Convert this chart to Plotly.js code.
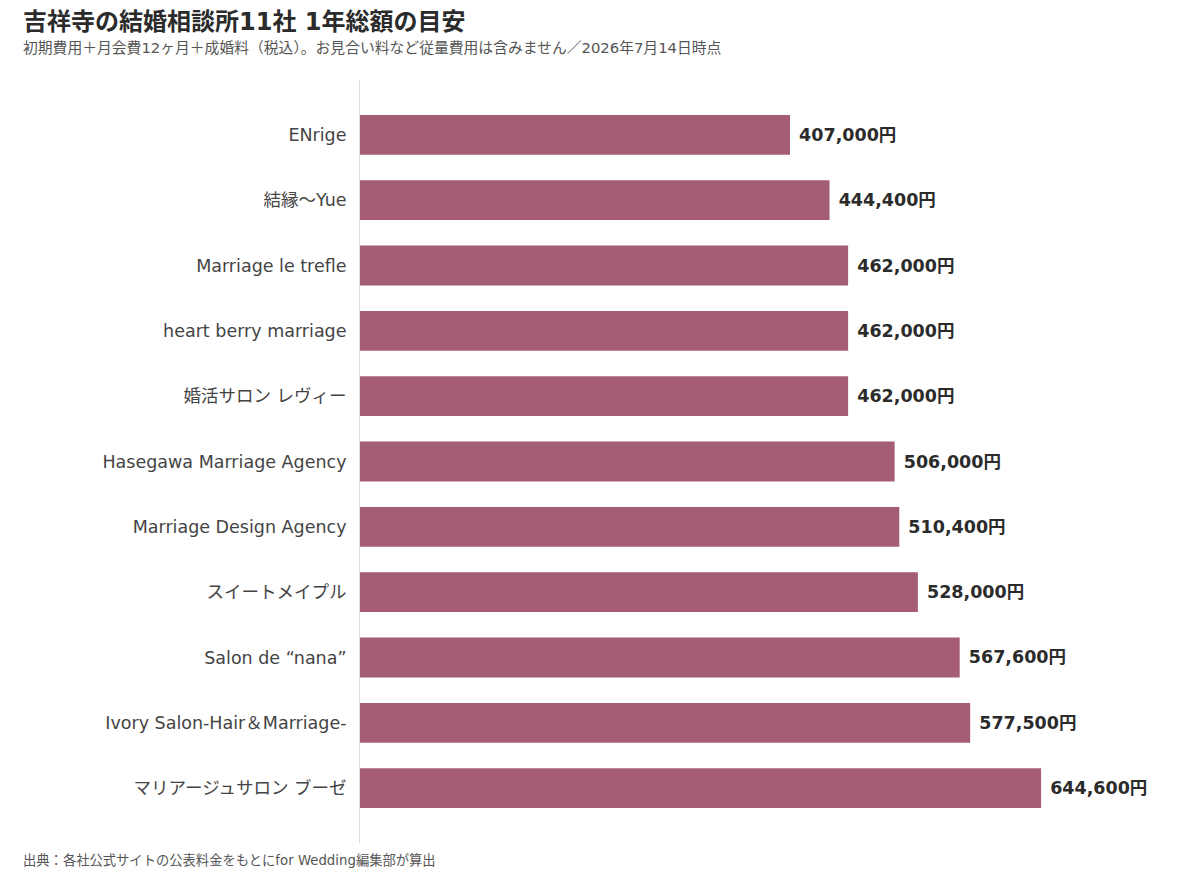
<!DOCTYPE html>
<html>
<head>
<meta charset="utf-8">
<script src="https://cdn.plot.ly/plotly-3.0.1.min.js"></script>
<style>
  html, body { margin: 0; padding: 0; background: #fff; }
  #chart { width: 1200px; height: 874px; }
</style>
</head>
<body>
<div id="chart"></div>
<script>
// agencies, top to bottom
let agencies = [
    "ENrige",
    "結縁〜Yue",
    "Marriage le trefle",
    "heart berry marriage",
    "婚活サロン レヴィー",
    "Hasegawa Marriage Agency",
    "Marriage Design Agency",
    "スイートメイプル",
    "Salon de “nana”",
    "Ivory Salon-Hair＆Marriage-",
    "マリアージュサロン ブーゼ"
]

// 1年総額 (yen)
let totals = [407000, 444400, 462000, 462000, 462000, 506000, 510400, 528000, 567600, 577500, 644600]

// nbsp in front to push the label away from the bar end
let labels = totals.map(v => "\u00a0" + v.toLocaleString("en-US") + "円")

// wide latin glyphs first, japanese falls back to the CJK font
let font = "'DejaVu Sans', 'Noto Sans CJK JP', sans-serif"

let trace = {
    type: "bar",
    orientation: "h",
    y: agencies,
    x: totals,
    text: labels,
    textposition: "outside",
    cliponaxis: false,
    textfont: {family: font, size: 17.5, color: "#2b2b2b", weight: 700},
    marker: {color: "#a55c75"},
    width: 0.61,
    hoverinfo: "skip"
}

// plot area in page pixels: x 360..1180, y 80..843
let pw = 820, ph = 763
function px(x) { return (x - 360) / pw }
function py(y) { return (843 - y) / ph }

let layout = {
    width: 1200,
    height: 874,
    margin: {l: 360, r: 20, t: 80, b: 31},
    paper_bgcolor: "#fff",
    plot_bgcolor: "#fff",
    font: {family: font, color: "#444"},
    showlegend: false,
    xaxis: {
        range: [0, 776100],
        visible: false,
        showgrid: false,
        zeroline: false,
        fixedrange: true
    },
    yaxis: {
        autorange: false,
        range: [10.84, -0.84],
        showline: true,
        linecolor: "#dddddd",
        linewidth: 1,
        ticks: "",
        ticklabelstandoff: 9,
        tickfont: {family: font, size: 17.5, color: "#444"},
        showgrid: false,
        zeroline: false,
        fixedrange: true
    },
    annotations: [
        {
            text: "<b>吉祥寺の結婚相談所11社 1年総額の目安</b>",
            xref: "paper", yref: "paper", x: px(21), y: py(22),
            xanchor: "left", yanchor: "middle", showarrow: false,
            font: {family: font, size: 24, color: "#2b2b2b"}
        },
        {
            text: "初期費用＋月会費12ヶ月＋成婚料（税込）。お見合い料など従量費用は含みません／2026年7月14日時点",
            xref: "paper", yref: "paper", x: px(21), y: py(47),
            xanchor: "left", yanchor: "middle", showarrow: false,
            font: {family: font, size: 14.8, color: "#555"}
        },
        {
            text: "出典：各社公式サイトの公表料金をもとにfor Wedding編集部が算出",
            xref: "paper", yref: "paper", x: px(21), y: py(860),
            xanchor: "left", yanchor: "middle", showarrow: false,
            font: {family: font, size: 13.3, color: "#555"}
        }
    ]
}

Plotly.newPlot("chart", [trace], layout, {displayModeBar: false, staticPlot: true})
</script>
</body>
</html>
